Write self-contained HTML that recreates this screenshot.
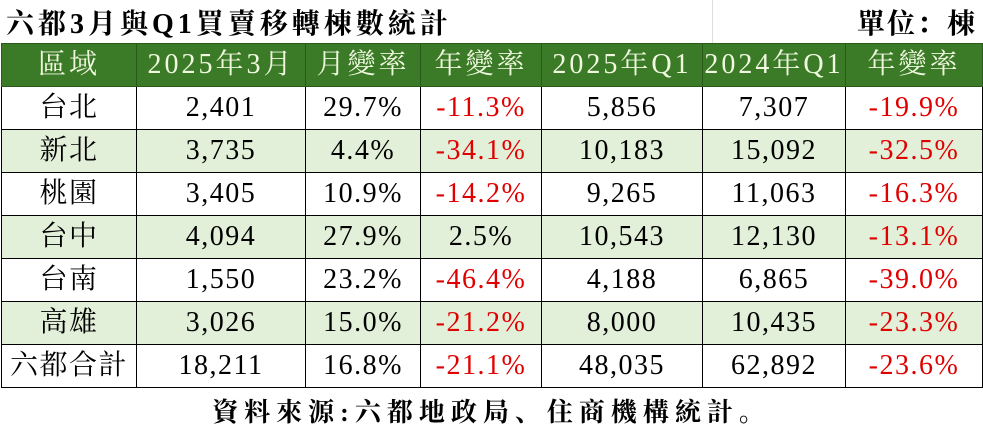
<!DOCTYPE html>
<html><head><meta charset="utf-8"><style>
body{margin:0;width:983px;height:431px;background:#fff;overflow:hidden;font-family:"Liberation Serif","Noto Serif CJK SC",serif;}
.title{position:absolute;left:6px;top:2px;font-size:28px;font-weight:bold;letter-spacing:4px;}
.unit{position:absolute;right:6px;top:2px;font-size:28px;font-weight:bold;letter-spacing:2px;}
table{position:absolute;left:1px;top:43px;border-collapse:collapse;table-layout:fixed;}
td{border:1px solid #000;height:42px;padding:0;text-align:center;font-size:28px;line-height:42px;white-space:nowrap;letter-spacing:1.5px;}
tr.h td{background:#3b7a26;color:#f0f8e0;border-color:#2a5a1a;letter-spacing:3px;}
tr.g td{background:#e2efd9;}
.r{color:#e00000;}
.foot{position:absolute;left:0;width:983px;top:392px;text-align:center;font-size:26px;font-weight:bold;letter-spacing:6px;}
</style></head><body>
<div class="title">六都3月與Q1買賣移轉棟數統計</div>
<div style="position:absolute;left:712px;top:0;width:1px;height:43px;background:#ddd"></div>
<div class="unit">單位：棟</div>
<table>
<colgroup><col style="width:135px"><col style="width:169px"><col style="width:115px"><col style="width:121px"><col style="width:161px"><col style="width:143px"><col style="width:137px"></colgroup>
<tr class="h"><td>區域</td><td>2025年3月</td><td>月變率</td><td>年變率</td><td>2025年Q1</td><td>2024年Q1</td><td>年變率</td></tr>
<tr><td>台北</td><td>2,401</td><td>29.7%</td><td class="r">-11.3%</td><td>5,856</td><td>7,307</td><td class="r">-19.9%</td></tr>
<tr class="g"><td>新北</td><td>3,735</td><td>4.4%</td><td class="r">-34.1%</td><td>10,183</td><td>15,092</td><td class="r">-32.5%</td></tr>
<tr><td>桃園</td><td>3,405</td><td>10.9%</td><td class="r">-14.2%</td><td>9,265</td><td>11,063</td><td class="r">-16.3%</td></tr>
<tr class="g"><td>台中</td><td>4,094</td><td>27.9%</td><td>2.5%</td><td>10,543</td><td>12,130</td><td class="r">-13.1%</td></tr>
<tr><td>台南</td><td>1,550</td><td>23.2%</td><td class="r">-46.4%</td><td>4,188</td><td>6,865</td><td class="r">-39.0%</td></tr>
<tr class="g"><td>高雄</td><td>3,026</td><td>15.0%</td><td class="r">-21.2%</td><td>8,000</td><td>10,435</td><td class="r">-23.3%</td></tr>
<tr><td>六都合計</td><td>18,211</td><td>16.8%</td><td class="r">-21.1%</td><td>48,035</td><td>62,892</td><td class="r">-23.6%</td></tr>
</table>
<div class="foot">資料來源:六都地政局、住商機構統計。</div>
</body></html>
